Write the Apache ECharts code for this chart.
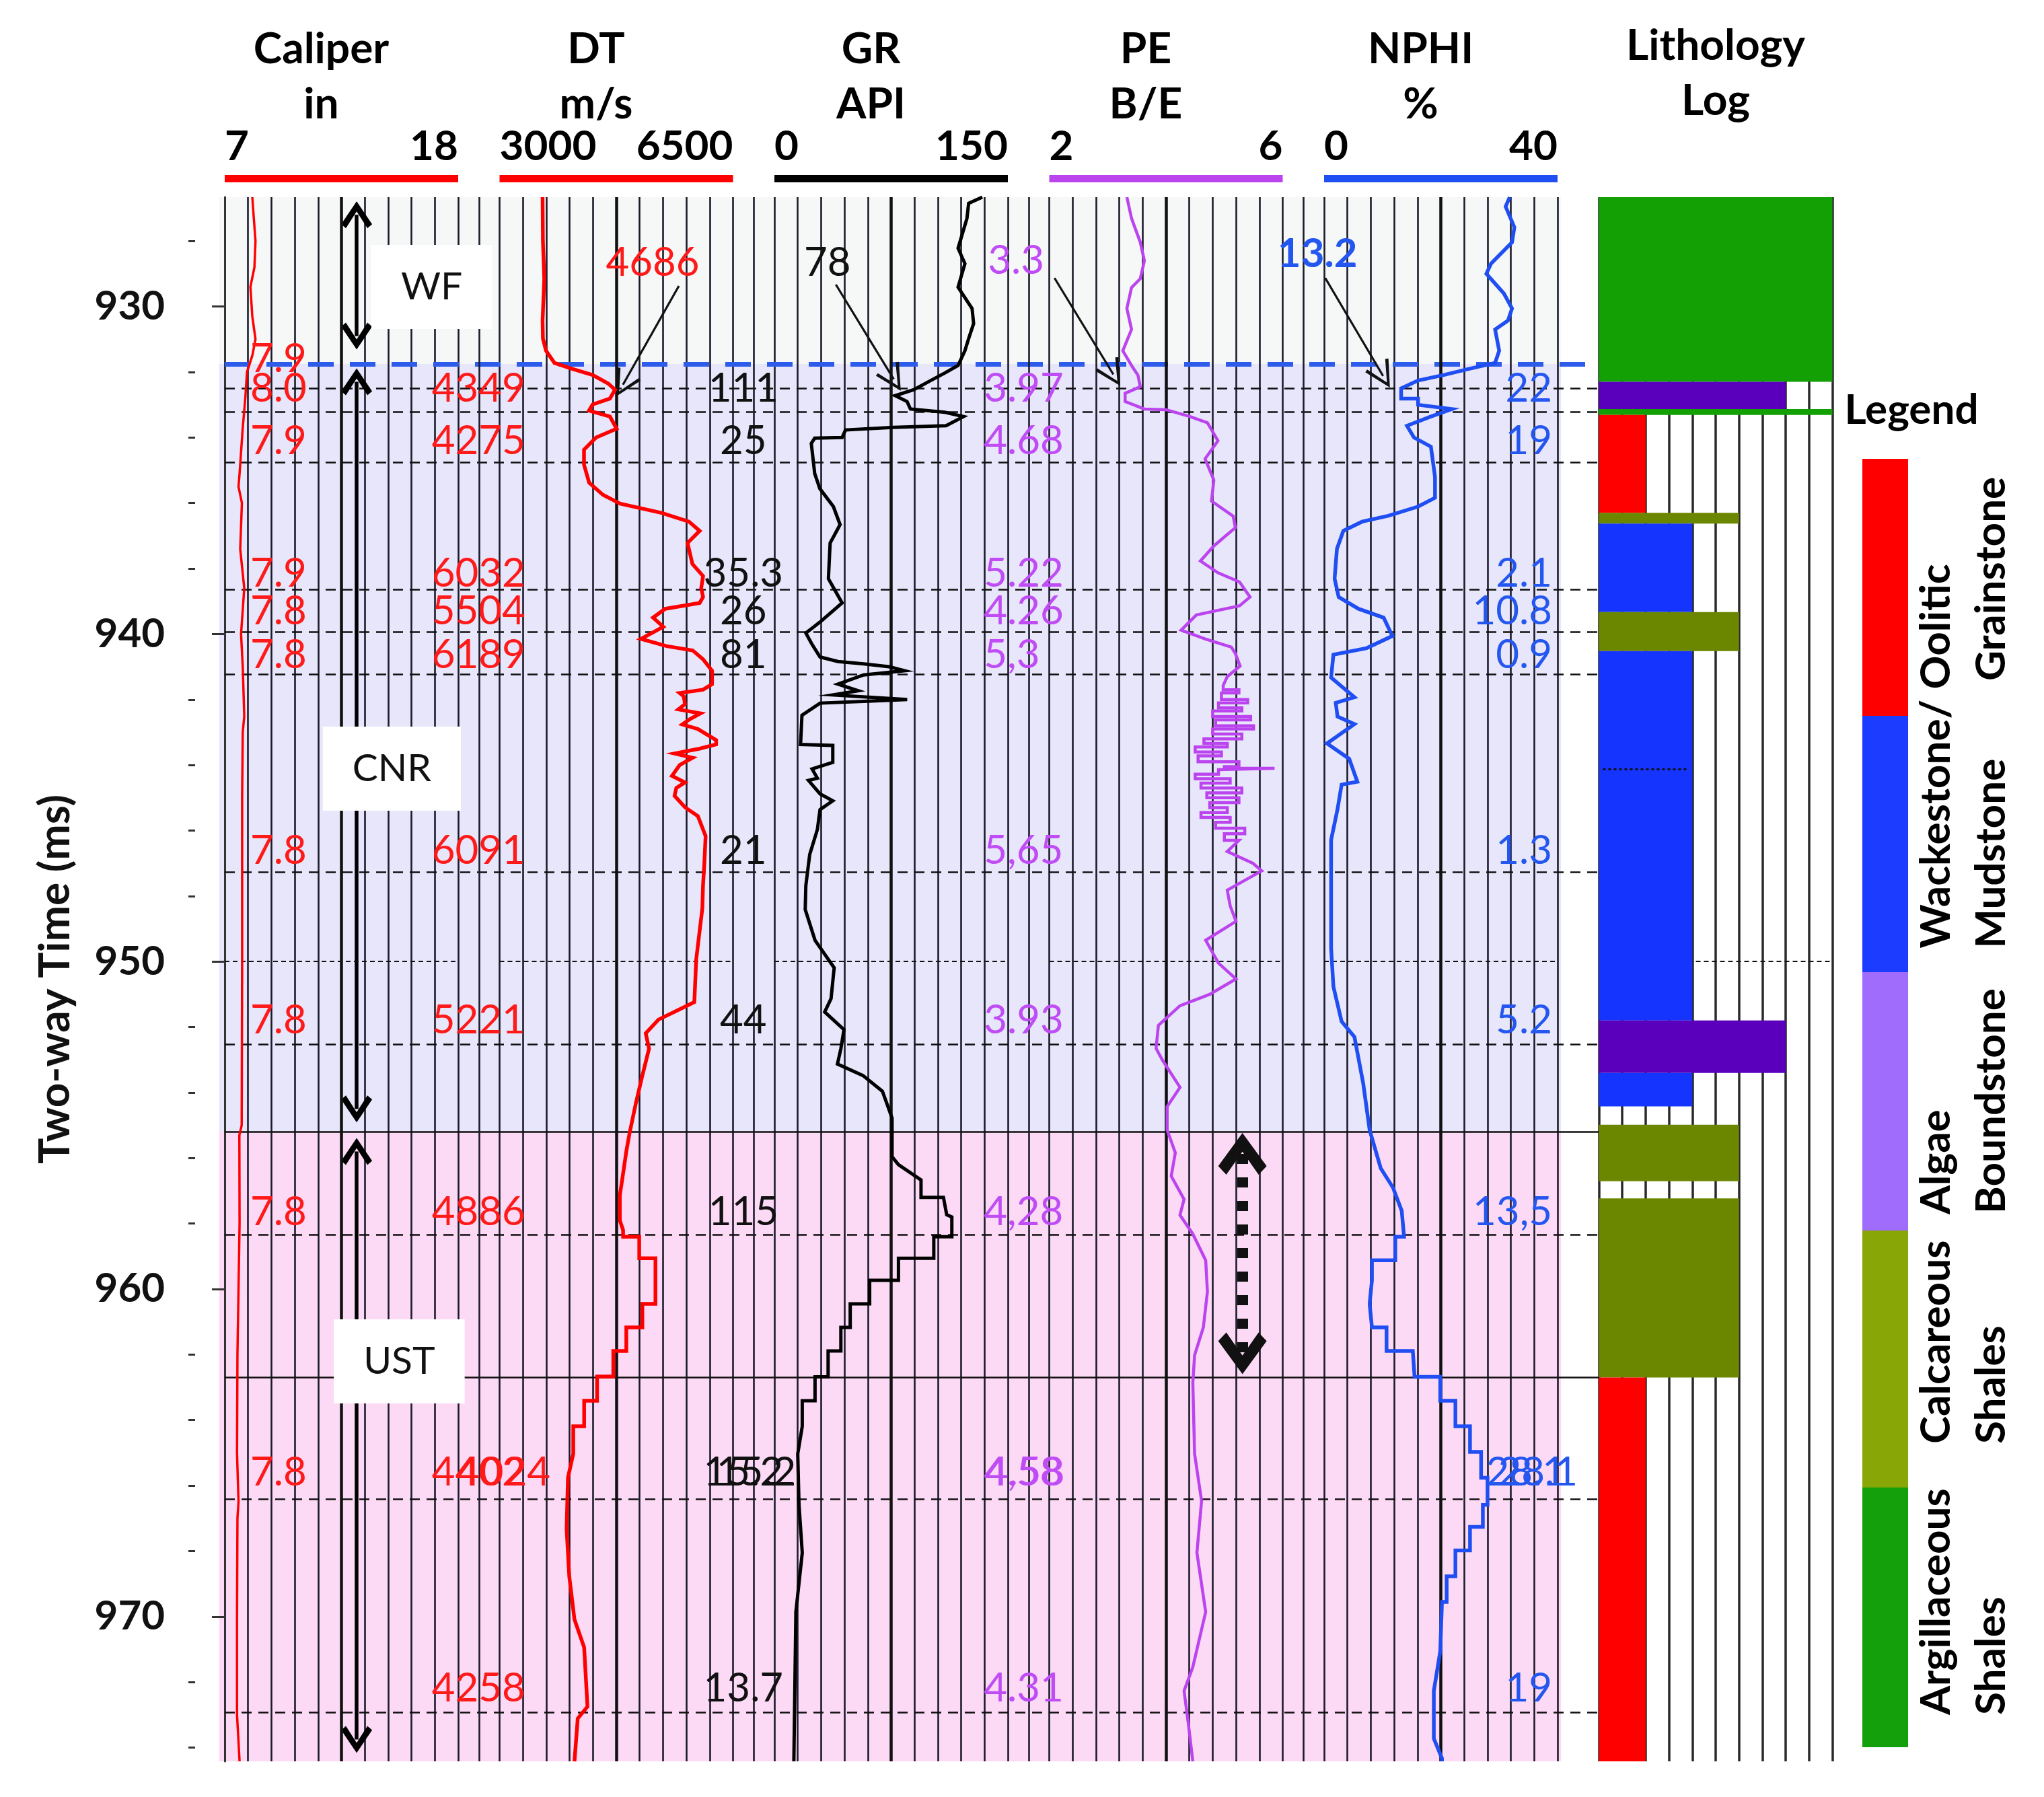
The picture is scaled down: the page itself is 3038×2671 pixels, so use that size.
<!DOCTYPE html>
<html>
<head>
<meta charset="utf-8">
<script src="https://cdn.jsdelivr.net/npm/echarts@6.0.0/dist/echarts.min.js"></script>
<style>
html,body{margin:0;padding:0;background:#fff;}
#chart{width:3038px;height:2671px;}
</style>
</head>
<body>
<div id="chart"></div>
<script>
// ================= DATA =================
const timeRange = [926.66, 974.42];
const majorTicks = [930, 940, 950, 960, 970];
const minorTicks = [928, 932, 934, 936, 938, 942, 944, 946, 948, 952, 954, 956, 958, 962, 964, 966, 968, 972, 974];

const trackNames = ['Caliper', 'DT', 'GR', 'PE', 'NPHI'];
const trackUnits = ['in', 'm/s', 'API', 'B/E', '%'];
const trackMin = [7, 3000, 0, 2, 0];
const trackMax = [18, 6500, 150, 6, 40];

// [two-way time (ms), value]
const caliperLog = [[926.66,8.30],[927.3,8.37],[928.0,8.45],[928.8,8.40],[929.4,8.21],[930.3,8.30],[931.0,8.45],[931.5,8.30],[932.0,8.05],[932.8,7.97],[933.7,7.85],[935.1,7.70],[935.5,7.65],[936.0,7.81],[937.4,7.73],[938.6,7.92],[940.0,7.77],[941.0,7.85],[942.5,7.92],[943.0,7.85],[945.0,7.82],[950.0,7.82],[955.0,7.80],[955.3,7.69],[958.0,7.70],[960.0,7.65],[962.0,7.60],[965.0,7.58],[966.5,7.65],[967.0,7.60],[970.0,7.58],[973.0,7.58],[974.42,7.70]];

const dtLog = [[926.66,3645],[928.0,3650],[929.15,3670],[930.43,3645],[930.98,3650],[931.35,3697],[931.72,3822],[931.9,4085],[932.09,4395],[932.35,4628],[932.54,4732],[932.81,4654],[932.99,4395],[933.18,4340],[933.36,4654],[933.73,4755],[934.0,4447],[934.37,4266],[934.83,4266],[935.38,4343],[935.75,4550],[936.02,4809],[936.3,5430],[936.57,5841],[936.85,6000],[937.22,5818],[937.86,5891],[938.23,6051],[938.6,6023],[938.87,6051],[939.05,6000],[939.23,5482],[939.5,5301],[939.78,5455],[940.15,5120],[940.37,5506],[940.5,5895],[940.77,6050],[941.12,6186],[941.53,6186],[941.7,6050],[941.8,5699],[941.9,5760],[942.14,5780],[942.3,5680],[942.42,6013],[942.6,5850],[942.76,5740],[942.9,5973],[943.24,6247],[943.37,6247],[943.5,6000],[943.65,5623],[943.78,5895],[944.0,5700],[944.33,5585],[944.53,5780],[944.7,5650],[944.94,5623],[945.29,5780],[945.56,5973],[946.17,6089],[947.0,6070],[947.68,6050],[948.38,6040],[949.94,5948],[951.24,5920],[951.48,5678],[951.77,5384],[952.19,5191],[952.66,5241],[953.48,5141],[954.31,5045],[955.25,4948],[955.8,4900],[956.5,4850],[957.14,4803],[957.9,4803],[958.2,4852],[958.4,4852],[958.4,5094],[959.06,5094],[959.06,5337],[960.45,5337],[960.45,5141],[961.17,5141],[961.17,4900],[961.89,4900],[961.89,4705],[962.67,4705],[962.67,4462],[963.41,4462],[963.41,4268],[964.19,4268],[964.19,4105],[965.03,4105],[965.76,4025],[967.32,4005],[968.77,4045],[970.09,4123],[970.94,4268],[972.75,4318],[973.11,4172],[974.42,4123]];

const grLog = [[926.66,133.6],[926.85,124.8],[927.31,123.7],[928.22,118],[928.69,122.4],[929.41,118],[930.06,127],[930.52,128],[930.98,124.8],[931.35,122.4],[931.8,118],[932.03,109.5],[932.26,100.4],[932.54,89.6],[932.72,77.6],[932.9,85.2],[933.13,87.4],[933.23,109.5],[933.36,121.5],[933.64,110.3],[933.69,76.3],[933.77,45.7],[934.0,43.5],[934.02,25.9],[934.18,23.7],[935.1,25.9],[935.56,29.2],[936.11,37.9],[936.66,42.2],[937.22,35.8],[938.31,34.7],[939.05,43.5],[939.6,30.2],[939.97,20.2],[940.3,24],[940.7,29.3],[940.84,40.8],[940.91,57.3],[941.0,73.7],[941.12,83.6],[941.25,57.3],[941.53,40.8],[941.73,53.9],[941.86,37.5],[942.0,85.3],[942.05,60],[942.11,29.3],[942.48,17.7],[943.37,16.8],[943.4,37.5],[943.92,37.5],[944.12,24.2],[944.4,27.6],[944.47,21.9],[944.88,29.3],[945.09,37.5],[945.36,29.3],[945.97,27.6],[946.73,22.7],[947.68,20.2],[948.41,19.8],[949.35,26.1],[950.19,38.4],[951.13,36.4],[951.54,32.3],[952.08,44.7],[952.66,42.7],[953.13,40.5],[953.48,56.9],[953.96,69.4],[954.78,75.6],[955.96,75.6],[956.2,79.7],[956.67,94.2],[957.2,94.2],[957.2,108.6],[957.73,110.7],[957.8,114],[958.4,114],[958.4,102.4],[959.06,102.4],[959.06,79.7],[959.73,79.7],[959.73,61.2],[960.45,61.2],[960.45,48.7],[961.17,48.7],[961.17,42.7],[961.89,42.7],[961.89,34.5],[962.68,34.5],[962.68,26.1],[963.41,26.1],[963.41,17.9],[964.19,17.9],[965.03,15.0],[966.59,15.8],[968.05,17.9],[969.86,13.8],[974.42,12.5]];

const peLog = [[926.66,3.33],[927.31,3.41],[928.04,3.56],[928.6,3.63],[929.15,3.56],[929.42,3.41],[930.06,3.33],[930.7,3.41],[931.35,3.26],[931.8,3.41],[932.1,3.52],[932.45,3.56],[932.65,3.30],[932.9,3.30],[933.13,3.63],[933.15,4.0],[933.36,4.41],[933.55,4.71],[934.1,4.89],[934.65,4.67],[935.3,4.82],[935.94,4.78],[936.4,5.15],[936.75,5.19],[937.31,4.82],[937.77,4.59],[938.13,4.89],[938.41,5.26],[938.87,5.44],[939.14,5.26],[939.42,4.52],[939.88,4.26],[940.15,4.67],[940.4,5.12],[940.6,5.19],[940.98,5.27],[941.3,5.05],
  [941.57,4.98],[941.7,4.98],[941.7,5.25],[941.8,5.25],[941.8,4.95],[942.0,4.95],[942.0,5.4],[942.1,5.4],[942.1,4.9],[942.25,4.9],[942.25,5.3],[942.35,5.3],[942.35,4.8],[942.52,4.8],[942.52,5.45],[942.62,5.45],[942.62,4.85],[942.8,4.85],[942.8,5.5],[942.9,5.5],[942.9,4.8],[943.05,4.8],[943.05,5.3],[943.2,5.3],[943.2,4.65],[943.34,4.65],[943.34,5.05],[943.45,5.05],[943.45,4.5],[943.6,4.5],[943.6,4.95],[943.72,4.95],[943.72,4.55],[943.9,4.55],[943.9,5.25],[944.05,5.25],[944.05,5.0],[944.1,5.0],[944.1,5.86],[944.14,5.86],[944.14,4.9],[944.28,4.9],[944.28,4.5],[944.42,4.5],[944.42,5.1],[944.55,5.1],[944.55,4.6],[944.7,4.6],[944.7,5.3],[944.85,5.3],[944.85,4.7],[945.0,4.7],[945.0,5.25],[945.15,5.25],[945.15,4.75],[945.3,4.75],[945.3,5.05],[945.45,5.05],[945.45,4.6],[945.6,4.6],[945.6,5.1],[945.75,5.1],[945.75,4.85],[945.93,4.85],[945.93,5.35],[946.1,5.35],[946.1,5.0],[946.3,5.0],[946.3,5.25],
  [946.64,5.05],[947.0,5.49],[947.23,5.64],[947.82,5.05],[948.3,5.1],[948.77,5.2],[949.35,4.68],[950.05,4.9],[950.53,5.2],[951.0,4.75],[951.35,4.24],[951.95,3.87],[952.65,3.83],[953.01,3.94],[953.84,4.24],[954.43,4.02],[955.14,4.02],[955.84,4.16],[956.55,4.09],[957.26,4.31],[957.74,4.24],[958.32,4.46],[959.12,4.68],[960.08,4.71],[961.17,4.64],[962.02,4.49],[962.86,4.46],[965.03,4.49],[966.47,4.61],[968.05,4.53],[969.86,4.68],[971.54,4.46],[972.27,4.31],[973.23,4.38],[974.42,4.46]];

const nphiLog = [[926.66,31.8],[926.95,31.1],[927.58,32.6],[928.04,32.2],[928.69,28.6],[929.0,27.8],[929.6,30.8],[930.06,32.2],[930.43,31.5],[930.7,29.3],[931.35,30.0],[931.72,29.3],[931.9,24.9],[932.09,20.5],[932.26,16.1],[932.5,13.2],[932.81,13.2],[932.81,16.1],[933.0,16.1],[933.13,21.9],[933.36,18.3],[933.64,14.2],[934.0,15.4],[934.28,18.3],[935.2,19.0],[935.84,19.0],[936.11,16.1],[936.39,11.0],[936.57,6.5],[936.85,3.3],[937.4,2.2],[938.31,1.8],[938.87,2.5],[939.23,5.9],[939.5,10.2],[940.06,11.7],[940.43,7.3],[940.63,1.6],[941.33,1.2],[941.93,5.2],[942.1,2.0],[942.52,2.3],[942.75,5.2],[943.34,0.5],[943.81,4.3],[944.51,5.7],[944.6,3.0],[945.35,2.3],[946.29,1.2],[947.23,1.2],[949.59,1.2],[950.77,1.6],[951.83,3.0],[952.3,5.2],[953.72,6.7],[955.14,7.8],[956.31,9.7],[956.9,11.8],[957.61,13.3],[958.4,13.7],[958.4,12.2],[959.12,12.2],[959.12,8.2],[959.73,8.2],[960.45,7.8],[961.17,8.2],[961.17,10.7],[961.89,10.7],[961.89,15.2],[962.68,15.5],[962.68,19.9],[963.41,19.9],[963.41,22.5],[964.19,22.5],[964.19,25.0],[964.97,25.0],[964.97,26.9],[965.76,26.9],[965.76,28.0],[966.59,28.0],[966.59,27.2],[967.26,27.2],[967.26,25.0],[967.98,25.0],[967.98,22.5],[968.77,22.5],[968.77,21.0],[969.55,21.0],[969.55,20.2],[971.06,19.9],[972.27,18.8],[973.72,18.8],[974.33,20.2],[974.42,20.2]];

// formation zones
const zoneNames = ['WF', 'CNR', 'UST'];
const zoneTop = [926.66, 931.75, 955.2];
const zoneBottom = [931.75, 955.2, 974.42];
const zoneLabelTime = [929.4, 944.11, 962.21];
const zoneArrowTop = [927.2, 932.3, 955.8];
const zoneArrowBottom = [930.9, 954.5, 973.75];

// reading lines
const markerTimes = [932.5, 933.22, 934.75, 938.65, 939.93, 941.22, 947.26, 952.52, 958.35, 966.42, 972.92];
const topBoundary = 931.75;
const solidBoundaries = [955.2, 962.7];
const fineLineTime = 950;

// values read at each line
const labelRowTimes = [932.5, 934.1, 938.15, 939.3, 940.65, 946.62, 951.8, 957.66, 965.6, 972.2];
const caliperLabels = ['8.0', '7.9', '7.9', '7.8', '7.8', '7.8', '7.8', '7.8', '7.8', ''];
const dtLabels = ['4349', '4275', '6032', '5504', '6189', '6091', '5221', '4886', '4402', '4258'];
const grLabels = ['111', '25', '35.3', '26', '81', '21', '44', '115', '15.2', '13.7'];
const peLabels = ['3.97', '4.68', '5.22', '4.26', '5,3', '5,65', '3.93', '4,28', '4,58', '4.31'];
const nphiLabels = ['22', '19', '2.1', '10.8', '0.9', '1.3', '5.2', '13,5', '', '19'];
// over-printed / extra labels: [set, text, time, x-position in track units]
const extraLabels = [['caliper', '7.9', 931.6, 0.093], ['dt', '4024', 965.6, 1.185], ['gr', '15.2', 965.6, 1.934],
  ['pe', '4.58', 965.6, 2.766], ['nphi', '28.1', 965.6, 4.879], ['nphi', '28.1', 965.6, 4.923]];

// call-outs at the WF/CNR boundary
const calloutTexts = ['4686', '78', '3.3', '13.2'];
const calloutTextTime = [928.66, 928.66, 928.6, 928.4];
const calloutTrack = [1, 2, 3, 4];
const calloutFrom = [[5688, 929.37], [39.5, 929.33], [2.09, 929.13], [0.2, 929.13]];
const calloutTo = [[4757, 932.72], [80.8, 932.54], [3.21, 932.4], [11.2, 932.45]];
const peArrowValue = 5.31, peArrowTop = 955.23, peArrowBottom = 962.6;

// lithology log
const lithKinds = ['Oolitic Grainstone', 'Wackestone/Mudstone', 'Algae Boundstone', 'Calcareous Shales', 'Argillaceous Shales'];
const lithCode = [2, 4, 8, 6, 10];   // bar length code of each kind
const lithTop    = [926.66, 932.30, 933.13, 933.31, 936.30, 936.63, 939.33, 940.52, 951.80, 953.40, 954.98, 957.23, 962.70];
const lithBottom = [932.30, 933.13, 933.31, 936.30, 936.63, 939.33, 940.52, 951.80, 953.40, 954.42, 956.71, 962.70, 974.42];
const lithKind   = [4, 2, 4, 0, 3, 1, 3, 1, 2, 1, 3, 3, 0];
const lithDivider = [944.13];

// ================= STYLE / LAYOUT =================
const FONT = "Lato, 'Open Sans', 'DejaVu Sans', sans-serif";
const trackColors = ['#ff0000', '#ff0000', '#000000', '#bb44ee', '#1f4ef2'];
const labelColors = ['#ff1a1a', '#ff1a1a', '#111111', '#c04cf5', '#2456f0'];
const zoneColors = ['#f6f8f7', '#e7e6fa', '#fcdaf5'];
const lithColors = ['#ff0000', '#1535ff', '#5a00bd', '#6b8700', '#12a005'];
const legendColors = ['#ff0000', '#1c3cff', '#a06cfb', '#88a606', '#14a00a'];
const LAY = { top: 293, height: 2325, left0: 334, pitch: 408.5, width: 347 };
const LINE = '#1b1b2b';

const CHEV_THIN = 'path://M0,40 L20,0 L40,40 L35.5,42 L20,9 L4.5,42 Z';
const CHEV_MID = 'path://M0,34 L23,0 L46,34 L39,40 L23,15 L7,40 Z';
const CHEV_BIG = 'path://M0,46 L36,0 L72,46 L60,58 L36,26 L12,58 Z';

const logs = [caliperLog, dtLog, grLog, peLog, nphiLog];
const lineWidths = [3.5, 5.5, 5, 4.5, 5.5];

// ----- grids -----
const grids = [{ left: LAY.left0, top: LAY.top, width: LAY.pitch * 5, height: LAY.height }];
for (let k = 0; k < 5; k++) grids.push({ left: LAY.left0 + k * LAY.pitch, top: LAY.top, width: LAY.width, height: LAY.height });
grids.push({ left: LAY.left0 + 5 * LAY.pitch, top: LAY.top, width: LAY.width, height: LAY.height });

const headerName = { fontSize: 64, fontWeight: 'bold', color: '#000', lineHeight: 82, fontFamily: FONT };

// ----- x axes -----
const xAxes = [{ gridIndex: 0, type: 'value', min: 0, max: 5, show: false }];
for (let k = 0; k < 5; k++) {
  xAxes.push({
    gridIndex: k + 1, type: 'value', position: 'top', offset: 28,
    min: trackMin[k], max: trackMax[k],
    axisLine: { show: true, onZero: false, lineStyle: { color: trackColors[k], width: 11, cap: 'butt' } },
    axisTick: { show: false }, splitLine: { show: false },
    axisLabel: {
      show: true, customValues: [trackMin[k], trackMax[k]], formatter: v => String(v),
      alignMinLabel: 'left', alignMaxLabel: 'right', margin: 16,
      fontSize: 62, fontWeight: 'bold', color: '#000', fontFamily: FONT
    },
    name: trackNames[k] + '\n' + trackUnits[k], nameLocation: 'middle', nameGap: 69, nameMoveOverlap: false,
    nameTextStyle: Object.assign({ padding: [0, 60, 0, 0] }, headerName)
  });
}
for (let k = 0; k < 5; k++) {
  xAxes.push({
    gridIndex: k + 1, type: 'value', position: 'bottom', min: 0, max: 10, interval: 1,
    axisLine: { show: false }, axisTick: { show: false }, axisLabel: { show: false },
    splitLine: { show: true, lineStyle: { color: LINE, width: 2.6 } }
  });
}
xAxes.push({
  gridIndex: 6, type: 'value', position: 'top', offset: 28, min: 0, max: 10, interval: 1,
  axisLine: { show: false }, axisTick: { show: false }, axisLabel: { show: false },
  splitLine: { show: true, lineStyle: { color: '#2a2a2a', width: 3.5 } },
  name: 'Lithology\nLog', nameLocation: 'middle', nameGap: 74, nameMoveOverlap: false, nameTextStyle: headerName
});

// ----- y axes -----
const yBase = { type: 'value', min: timeRange[0], max: timeRange[1], inverse: true };
const yAxes = [
  Object.assign({}, yBase, {
    gridIndex: 0, position: 'left', offset: 44,
    axisLine: { show: true, lineStyle: { color: '#333', width: 3 } },
    axisTick: { show: true, customValues: majorTicks, length: 19, lineStyle: { color: '#333', width: 3 } },
    axisLabel: { show: true, customValues: majorTicks, margin: 45, fontSize: 60, fontWeight: 'bold', color: '#111', fontFamily: FONT, formatter: v => String(v) },
    splitLine: { show: false },
    name: 'Two-way Time (ms)', nameLocation: 'middle', nameRotate: 90, nameGap: 176, nameMoveOverlap: false,
    nameTextStyle: { fontSize: 64, fontWeight: 'bold', color: '#111', fontFamily: FONT }
  }),
  Object.assign({}, yBase, {
    gridIndex: 0, position: 'left', offset: 44,
    axisLine: { show: false },
    axisTick: { show: true, customValues: minorTicks, length: 10, lineStyle: { color: '#333', width: 3 } },
    axisLabel: { show: false }, splitLine: { show: false }
  })
];
for (let g = 1; g <= 6; g++) yAxes.push(Object.assign({}, yBase, { gridIndex: g, show: false }));

// ----- series -----
const series = [];

// zone shading
series.push({
  type: 'custom', xAxisIndex: 0, yAxisIndex: 0, z: -1, silent: true,
  encode: { x: 0, y: [1, 2] },
  data: zoneTop.map((t, i) => [0, t, zoneBottom[i], i]),
  renderItem: (params, api) => {
    const p1 = api.coord([-0.02, api.value(1)]);
    const p2 = api.coord([4.862, api.value(2)]);
    return { type: 'rect', shape: { x: p1[0], y: p1[1], width: p2[0] - p1[0], height: p2[1] - p1[1] }, style: { fill: zoneColors[api.value(3)] } };
  }
});

// overlay lines
const overlayLines = [];
markerTimes.forEach(t => overlayLines.push([{ coord: [0, t], lineStyle: { color: '#111', width: 2.6, type: [15, 10] } }, { coord: [5, t] }]));
overlayLines.push([{ coord: [0, topBoundary], lineStyle: { color: '#2d5bea', width: 7, type: [38, 24] } }, { coord: [5, topBoundary] }]);
solidBoundaries.forEach(t => overlayLines.push([{ coord: [0, t], lineStyle: { color: '#111', width: 2.6, type: 'solid' } }, { coord: [5, t] }]));
for (let k = 0; k < 4; k++) {
  const gx = k + (LAY.width / LAY.pitch + 1) / 2;
  overlayLines.push([{ coord: [gx, timeRange[0]], lineStyle: { color: LINE, width: 2.6, type: 'solid' } }, { coord: [gx, timeRange[1]] }]);
}
zoneNames.forEach((n, i) => {
  overlayLines.push([
    { coord: [0.48, zoneArrowTop[i]], symbol: CHEV_MID, symbolSize: [46, 40], lineStyle: { color: '#000', width: 5.5, type: 'solid' } },
    { coord: [0.48, zoneArrowBottom[i]], symbol: CHEV_MID, symbolSize: [46, 40] }
  ]);
});
series.push({
  type: 'line', xAxisIndex: 0, yAxisIndex: 0, data: [], z: 3, silent: true,
  markLine: { silent: true, animation: false, symbol: ['none', 'none'], label: { show: false }, data: overlayLines }
});

// track curves
for (let k = 0; k < 5; k++) {
  const center = (trackMin[k] + trackMax[k]) / 2;
  const ml = [
    { xAxis: center, lineStyle: { color: '#111', width: 4.5, type: 'solid' } },
    { yAxis: fineLineTime, lineStyle: { color: '#111', width: 2, type: [7, 5] } }
  ];
  calloutTrack.forEach((tr, i) => {
    if (tr !== k) return;
    const f = calloutFrom[i], to = calloutTo[i];
    const end = [to[0] + 0.1 * (f[0] - to[0]), to[1] + 0.1 * (f[1] - to[1])];
    ml.push([{ coord: f, symbol: 'none', lineStyle: { color: '#111', width: 3.2, type: 'solid' } }, { coord: end, symbol: CHEV_THIN, symbolSize: [40, 40] }]);
  });
  if (k === 3) {
    ml.push([
      { coord: [peArrowValue, peArrowTop + 0.64], symbol: CHEV_BIG, symbolSize: [72, 62], lineStyle: { color: '#111', width: 16, type: [15, 20] } },
      { coord: [peArrowValue, peArrowBottom - 0.64], symbol: CHEV_BIG, symbolSize: [72, 62] }
    ]);
  }
  series.push({
    type: 'line', xAxisIndex: k + 1, yAxisIndex: k + 2, z: 6, silent: true,
    showSymbol: false, symbol: 'none', animation: false,
    lineStyle: { color: trackColors[k], width: lineWidths[k], join: 'miter' },
    data: logs[k].map(d => [d[1], d[0]]),
    markLine: { silent: true, animation: false, symbol: ['none', 'none'], label: { show: false }, data: ml }
  });
}

// lithology
series.push({
  type: 'line', xAxisIndex: 11, yAxisIndex: 7, data: [], z: 1, silent: true,
  markLine: { silent: true, animation: false, symbol: ['none', 'none'], label: { show: false },
    data: [{ yAxis: fineLineTime, lineStyle: { color: '#111', width: 2, type: [7, 5] } }] }
});
series.push({
  type: 'custom', xAxisIndex: 11, yAxisIndex: 7, z: 6, silent: true,
  encode: { x: 0, y: [1, 2] },
  data: lithTop.map((t, i) => [lithCode[lithKind[i]], t, lithBottom[i], lithKind[i]]),
  renderItem: (params, api) => {
    const p1 = api.coord([0, api.value(1)]);
    const p2 = api.coord([api.value(0), api.value(2)]);
    return { type: 'rect', shape: { x: p1[0], y: p1[1], width: p2[0] - p1[0], height: p2[1] - p1[1] }, style: { fill: lithColors[api.value(3)] } };
  }
});
series.push({
  type: 'custom', xAxisIndex: 11, yAxisIndex: 7, z: 7, silent: true,
  encode: { x: 0, y: 1 },
  data: lithDivider.map(t => [4, t]),
  renderItem: (params, api) => {
    const p1 = api.coord([0, api.value(1)]);
    const p2 = api.coord([api.value(0), api.value(1)]);
    return { type: 'line', shape: { x1: p1[0] + 6, y1: p1[1], x2: p2[0] - 6, y2: p2[1] }, style: { stroke: '#111', lineWidth: 3, lineDash: [4, 4] } };
  }
});

// text labels
const labelSets = {
  caliper: { labels: caliperLabels, x: 0.093, align: 'left', color: labelColors[0] },
  dt: { labels: dtLabels, x: 1.094, align: 'right', color: labelColors[1] },
  gr: { labels: grLabels, x: 1.887, align: 'center', color: labelColors[2] },
  pe: { labels: peLabels, x: 2.762, align: 'left', color: labelColors[3] },
  nphi: { labels: nphiLabels, x: 4.830, align: 'right', color: labelColors[4] }
};
function textItem(x, t, text, style) {
  return { value: [x, t], label: Object.assign({ show: true, formatter: text, fontFamily: FONT, fontSize: 60, verticalAlign: 'middle', opacity: 1 }, style) };
}
const labelItems = [];
Object.keys(labelSets).forEach(key => {
  const s = labelSets[key];
  s.labels.forEach((txt, i) => {
    if (txt) labelItems.push(textItem(s.x, labelRowTimes[i], txt, { align: s.align, color: s.color }));
  });
});
extraLabels.forEach(e => {
  const s = labelSets[e[0]];
  labelItems.push(textItem(e[3], e[2], e[1], { align: s.align, color: s.color }));
});
const calloutX = [1.557, 2.193, 2.879, 3.976];
calloutTexts.forEach((txt, i) => {
  const k = calloutTrack[i];
  labelItems.push(textItem(calloutX[i], calloutTextTime[i], txt, { align: 'center', color: labelColors[k], fontWeight: k === 4 ? 'bold' : 'normal' }));
});
const hiddenSymbol = { color: 'rgba(0,0,0,0)', opacity: 1 };
series.push({
  type: 'scatter', xAxisIndex: 0, yAxisIndex: 0, z: 8, silent: true, symbolSize: 1,
  itemStyle: hiddenSymbol, label: { show: true, position: 'inside' },
  data: labelItems
});
const zoneX = [0.753, 0.608, 0.635];
series.push({
  type: 'scatter', xAxisIndex: 0, yAxisIndex: 0, z: 9, silent: true, symbolSize: 1,
  itemStyle: hiddenSymbol, label: { show: true, position: 'inside' },
  data: zoneNames.map((n, i) => textItem(zoneX[i], zoneLabelTime[i], n, { align: 'center', color: '#111', fontSize: 57, backgroundColor: '#ffffff', padding: [34, 44] }))
});

// ----- legend (graphic) -----
const legendTop = [682, 1064, 1445, 1829, 2211, 2597];
const legendText = [
  ['Grainstone', 2960, 1012], ['Wackestone/ Oolitic', 2878, 1409.6], ['Mudstone', 2960, 1409.6],
  ['Algae', 2878, 1805], ['Boundstone', 2960, 1804], ['Calcareous', 2878, 2146], ['Shales', 2960, 2146],
  ['Argillaceous', 2878, 2549], ['Shales', 2960, 2549]
];
const graphics = [{ type: 'text', x: 2841, y: 610, style: { text: 'Legend', font: 'bold 62px ' + FONT, fill: '#000', align: 'center', verticalAlign: 'middle' } }];
legendColors.forEach((c, i) => graphics.push({ type: 'rect', shape: { x: 2768, y: legendTop[i], width: 68, height: legendTop[i + 1] - legendTop[i] }, style: { fill: c } }));
legendText.forEach(l => graphics.push({ type: 'text', x: l[1], y: l[2], rotation: Math.PI / 2, style: { text: l[0], font: 'bold 62px ' + FONT, fill: '#000', align: 'left', verticalAlign: 'middle' } }));

const chart = echarts.init(document.getElementById('chart'), null, { renderer: 'canvas', width: 3038, height: 2671 });
chart.setOption({
  backgroundColor: '#ffffff',
  animation: false,
  textStyle: { fontFamily: FONT },
  grid: grids,
  xAxis: xAxes,
  yAxis: yAxes,
  series: series,
  graphic: graphics
});
</script>
</body>
</html>
